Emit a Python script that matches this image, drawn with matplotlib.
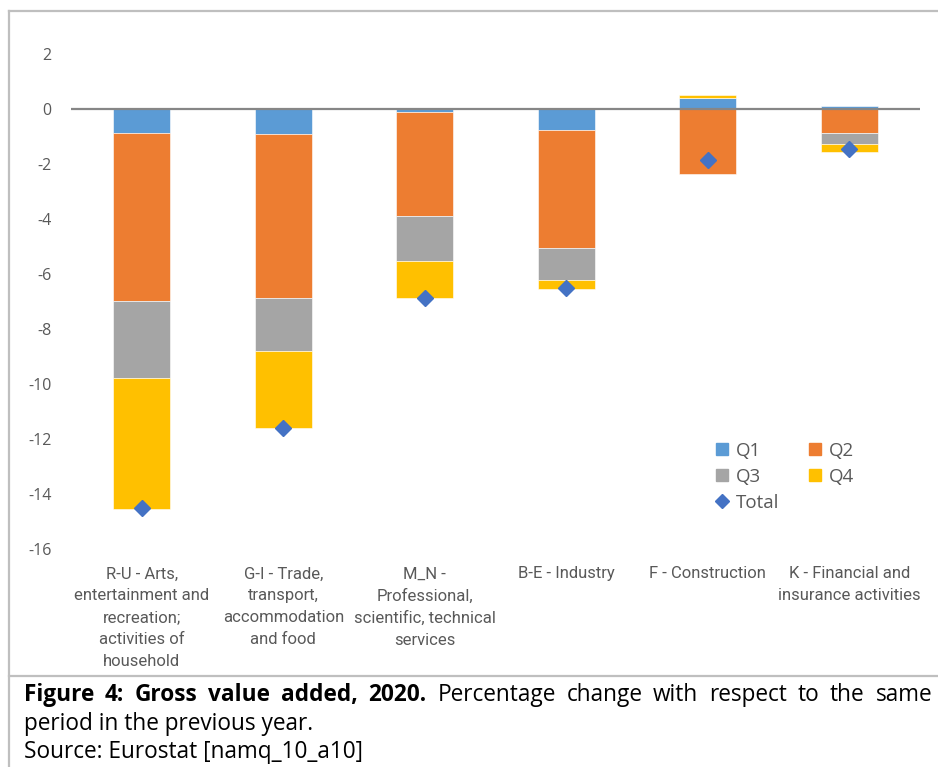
import matplotlib
matplotlib.use('Agg')
import matplotlib.pyplot as plt
from matplotlib.lines import Line2D
import numpy as np

# 数据 (percentage change, contribution by quarter)
categories = ['R-U - Arts,\nentertainment and\nrecreation;\nactivities of\nhousehold',
              'G-I - Trade,\ntransport,\naccommodation\nand food',
              'M_N -\nProfessional,\nscientific, technical\nservices',
              'B-E - Industry',
              'F - Construction',
              'K - Financial and\ninsurance activities']
q1 = [-0.87, -0.90, -0.11, -0.78, 0.39, 0.12]
q2 = [-6.11, -5.98, -3.77, -4.29, -2.36, -0.87]
q3 = [-2.80, -1.92, -1.65, -1.15, 0.00, -0.39]
q4 = [-4.75, -2.79, -1.35, -0.31, 0.11, -0.32]
total = [-14.50, -11.60, -6.86, -6.52, -1.87, -1.44]
yticks = [2, 0, -2, -4, -6, -8, -10, -12, -14, -16]

series = [('Q1', q1, '#5B9BD5'), ('Q2', q2, '#ED7D31'),
          ('Q3', q3, '#A5A5A5'), ('Q4', q4, '#FFC000')]

W, H = 938, 767
fig = plt.figure(figsize=(W / 100, H / 100), dpi=100)
ax = fig.add_axes([71 / W, 1 - 549 / H, (920 - 71) / W, (549 - 54) / H])

x = np.arange(len(categories))
pos_base = np.zeros(len(x))
neg_base = np.zeros(len(x))
for name, vals, col in series:
    v = np.array(vals)
    base = np.where(v >= 0, pos_base, neg_base)
    ax.bar(x, v, 0.4, bottom=base, color=col, edgecolor='white', linewidth=0.4, zorder=2)
    pos_base += np.where(v >= 0, v, 0)
    neg_base += np.where(v < 0, v, 0)

ax.plot(x, total, ls='', marker='D', ms=8.5, color='#4472C4', zorder=4)
ax.axhline(0, color='#868686', lw=1.6, zorder=3)

ax.set_xlim(-0.5, len(x) - 0.5)
ax.set_ylim(-16, 2)
ax.set_yticks(yticks)
ax.set_yticklabels([str(t) for t in yticks], family=['Open Sans', 'DejaVu Sans'],
                   fontsize=11.5, color='#595959')
ax.set_xticks(x)
ax.set_xticklabels(categories, family=['Liberation Sans Narrow', 'Roboto', 'DejaVu Sans'],
                   fontsize=12, color='#595959', linespacing=1.58, va='top')
ax.tick_params(axis='y', length=0, pad=14)
ax.tick_params(axis='x', length=0, pad=12.5)
for s in ax.spines.values():
    s.set_visible(False)

# 图例
handles = [Line2D([], [], ls='', marker='s', ms=9, color='#5B9BD5'),
           Line2D([], [], ls='', marker='s', ms=9, color='#A5A5A5'),
           Line2D([], [], ls='', marker='D', ms=7, color='#4472C4'),
           Line2D([], [], ls='', marker='s', ms=9, color='#ED7D31'),
           Line2D([], [], ls='', marker='s', ms=9, color='#FFC000')]
labels = ['Q1', 'Q3', 'Total', 'Q2', 'Q4']
fig.legend(handles, labels, ncol=2, frameon=False, loc='upper left',
           bbox_to_anchor=(697 / W, 1 - 425 / H), handlelength=0.9, handletextpad=0.25,
           columnspacing=1.5, labelspacing=0.42, prop={'family': 'Open Sans', 'size': 13.5},
           labelcolor='#595959')

# 边框
fig.add_artist(Line2D([8.5 / W, 8.5 / W], [0, 1 - 11 / H], color='#BFBFBF', lw=1.6))
fig.add_artist(Line2D([8.5 / W, 1], [1 - 11 / H, 1 - 11 / H], color='#BFBFBF', lw=1.6))
fig.add_artist(Line2D([8.5 / W, 1], [1 - 676 / H, 1 - 676 / H], color='#BFBFBF', lw=1.6))

# 图注 - first line justified between x=24 and x=932
cap = dict(family=['Open Sans', 'DejaVu Sans'], fontsize=16.3, color='black', va='baseline')
words = [(w, 'bold') for w in 'Figure 4: Gross value added, 2020.'.split()] + \
        [(w, 'normal') for w in 'Percentage change with respect to the same'.split()]
renderer = fig.canvas.get_renderer()
objs = [fig.text(0, 1 - 701 / H, w, fontweight=fw, **cap) for w, fw in words]
widths = [t.get_window_extent(renderer).width for t in objs]
gap = (932 - 24 - sum(widths)) / (len(objs) - 1)
xpos = 24
for t, w in zip(objs, widths):
    t.set_x(xpos / W)
    xpos += w + gap
fig.text(24 / W, 1 - 730 / H, 'period in the previous year.', **cap)
fig.text(24 / W, 1 - 758 / H, 'Source: Eurostat [namq_10_a10]', **cap)

fig.savefig('out.png', dpi=100)
